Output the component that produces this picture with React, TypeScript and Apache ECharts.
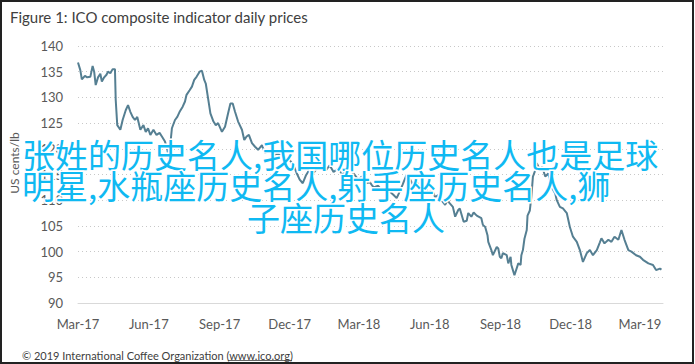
import React, { useEffect, useRef } from "react";
import * as echarts from "echarts";

// ---- Data ----
const startDate = "2017-03-01";
const endDate = "2019-03-31";

// days since 1 March 2017
const dayOffsets = [
  0, 3, 5, 9, 12, 16, 19, 21, 23, 26, 29, 31, 34, 37, 39, 42, 45, 48, 49, 51,
  55, 58, 62, 65, 68, 71, 74, 77, 81, 85, 88, 91, 94, 98, 102, 106, 109, 113, 116, 118,
  122, 126, 129, 132, 136, 139, 141, 145, 148, 151, 154, 158, 161, 164, 166, 169, 172, 176, 179, 182,
  187, 191, 195, 198, 201, 204, 208, 213, 216, 219, 222, 226, 230, 234, 239, 243, 247, 254, 260, 267,
  275, 280, 284, 288, 292, 296, 301, 306, 312, 317, 322, 327, 332, 338, 343, 348, 353, 358, 364, 369,
  374, 379, 384, 390, 395, 400, 405, 410, 414, 419, 423, 427, 431, 435, 440, 444, 449, 455, 460, 464,
  468, 471, 477, 480, 483, 487, 490, 494, 496, 501, 505, 507, 511, 514, 518, 524, 526, 529, 532, 533,
  537, 539, 544, 546, 548, 550, 552, 557, 559, 562, 563, 565, 567, 572, 575, 576, 578, 580, 583, 584,
  587, 589, 591, 595, 596, 600, 603, 607, 611, 615, 620, 622, 626, 630, 635, 639, 643, 648, 652, 656,
  661, 665, 669, 674, 678, 680, 684, 689, 693, 697, 702, 706, 710, 715, 719, 725, 730, 734, 741, 747,
  751, 756, 758,
];

// US cents/lb
const prices = [
  136.8, 135.3, 133.5, 134.2, 133.9, 134.0, 136.1, 135.0, 132.4, 133.9, 134.6, 133.1, 133.9, 134.4, 135.0, 134.7, 135.5, 135.5, 129.5, 124.6,
  123.7, 125.6, 127.5, 128.5, 127.2, 126.2, 125.6, 126.2, 123.7, 124.6, 123.3, 124.0, 122.7, 123.7, 122.7, 123.1, 122.4, 121.4, 120.0, 118.0,
  124.0, 125.6, 126.2, 127.2, 128.2, 129.2, 130.5, 131.4, 132.1, 133.4, 134.0, 135.0, 135.2, 133.4, 132.7, 129.8, 126.9, 125.3, 124.6, 125.0,
  123.3, 124.3, 126.9, 128.8, 128.8, 127.2, 125.3, 123.7, 121.7, 122.4, 122.7, 121.1, 120.4, 119.8, 120.7, 119.1, 119.8, 118.8, 119.1, 118.2,
  117.8, 116.8, 115.3, 114.0, 113.3, 114.8, 116.0, 115.3, 116.5, 117.0, 115.8, 116.8, 115.5, 116.2, 115.0, 115.6, 114.5, 115.2, 114.0, 114.6,
  113.3, 113.5, 112.5, 112.8, 111.8, 112.3, 111.7, 111.0, 110.4, 112.0, 113.5, 115.0, 114.2, 113.0, 113.6, 112.2, 112.8, 111.5, 111.9, 110.6,
  111.0, 110.2, 109.1, 110.0, 109.4, 108.7, 106.8, 108.1, 108.4, 105.8, 106.0, 107.5, 106.8, 107.6, 107.0, 106.5, 105.2, 104.8, 103.2, 101.9,
  100.3, 99.3, 100.9, 100.6, 99.0, 98.7, 99.7, 99.3, 97.7, 99.0, 97.4, 96.4, 95.4, 97.7, 97.4, 99.3, 100.3, 102.5, 104.2, 107.0,
  108.0, 110.7, 114.6, 116.2, 117.2, 115.9, 116.5, 114.6, 115.2, 112.6, 111.3, 110.0, 108.7, 108.4, 107.5, 104.8, 102.9, 101.9, 100.3, 98.0,
  99.7, 100.3, 99.3, 100.3, 101.8, 102.6, 101.6, 102.3, 101.9, 102.9, 102.3, 104.2, 102.3, 100.3, 100.0, 99.3, 99.0, 98.4, 97.7, 97.4,
  96.4, 96.7, 96.5,
];

const tickDates = [
  "2017-03-01", "2017-06-01", "2017-09-01", "2017-12-01", "2018-03-01",
  "2018-06-01", "2018-09-01", "2018-12-01", "2019-03-01",
];
const tickLabels = [
  "Mar-17", "Jun-17", "Sep-17", "Dec-17", "Mar-18",
  "Jun-18", "Sep-18", "Dec-18", "Mar-19",
];

const yMin = 90;
const yMax = 140;
const yStep = 5;

const titleText = "Figure 1: ICO composite indicator daily prices";
const yAxisName = "US cents/lb";
const footerText = "© 2019 International Coffee Organization (www.ico.org)";
const overlayLines = [
  "张姓的历史名人,我国哪位历史名人也是足球",
  "明星,水瓶座历史名人,射手座历史名人,狮",
  "子座历史名人",
];

const DAY_MS = 86400000;
const toDays = (s: string) => Math.round((Date.parse(s + "T00:00:00Z") - Date.parse(startDate + "T00:00:00Z")) / DAY_MS);

export default function App() {
  const ref = useRef<HTMLDivElement>(null);

  useEffect(() => {
    if (!ref.current) return;
    const chart = echarts.init(ref.current, null, { renderer: "svg" });
    const tickDays = tickDates.map(toDays);
    const maxDay = toDays(endDate);
    const labelFont = "Lato, 'Liberation Sans', sans-serif";

    chart.setOption({
      animation: false,
      backgroundColor: "#ffffff",
      title: {
        text: titleText,
        left: 5,
        top: 4,
        textStyle: { fontFamily: labelFont, fontSize: 15, fontWeight: "normal", color: "#404040" },
      },
      grid: { left: 78, right: 32, top: 46, bottom: 61, containLabel: false },
      xAxis: {
        type: "value",
        min: 0,
        max: maxDay,
        axisLine: { show: true, lineStyle: { color: "#d9d9d9", width: 1 } },
        axisTick: { show: false },
        splitLine: { show: false },
        axisLabel: {
          customValues: tickDays,
          margin: 14,
          fontFamily: labelFont,
          fontSize: 13,
          color: "#595959",
          formatter: (v: number) => {
            const i = tickDays.indexOf(Math.round(v));
            return i >= 0 ? tickLabels[i] : "";
          },
        },
      },
      yAxis: {
        type: "value",
        min: yMin,
        max: yMax,
        interval: yStep,
        axisLine: { show: false },
        axisTick: { show: false },
        axisLabel: { margin: 15, fontFamily: labelFont, fontSize: 13, color: "#595959" },
        splitLine: {
          show: true,
          lineStyle: { type: [1, 3], color: "#c8c8c8", width: 1 },
        },
      },
      series: [
        {
          type: "line",
          data: dayOffsets.map((d, i) => [d, prices[i]]),
          showSymbol: false,
          symbol: "none",
          lineStyle: { color: "#557f92", width: 2 },
          z: 3,
        },
      ],
      graphic: [
        {
          type: "text",
          x: 14,
          y: 163,
          rotation: Math.PI / 2,
          style: {
            text: yAxisName,
            font: "12px Lato, 'Liberation Sans', sans-serif",
            fill: "#595959",
            textAlign: "center",
            textVerticalAlign: "middle",
          },
        },
        {
          type: "text",
          x: 22,
          y: 355,
          style: {
            text: footerText,
            font: "11px Lato, 'Liberation Sans', sans-serif",
            fill: "#404040",
            textAlign: "left",
            textVerticalAlign: "middle",
          },
        },
        {
          type: "line",
          shape: { x1: 228, y1: 360.5, x2: 292, y2: 360.5 },
          style: { stroke: "#404040", lineWidth: 0.8 },
        },
        {
          type: "text",
          x: 22,
          y: 154,
          z: 10,
          style: {
            text: overlayLines[0],
            font: "33px 'Noto Sans CJK SC', sans-serif",
            fill: "#0fb9f2",
            stroke: "#ffffff",
            lineWidth: 3,
            textAlign: "left",
            textVerticalAlign: "middle",
          },
        },
        {
          type: "text",
          x: 22,
          y: 185,
          z: 10,
          style: {
            text: overlayLines[1],
            font: "33px 'Noto Sans CJK SC', sans-serif",
            fill: "#0fb9f2",
            stroke: "#ffffff",
            lineWidth: 3,
            textAlign: "left",
            textVerticalAlign: "middle",
          },
        },
        {
          type: "text",
          x: 346,
          y: 217,
          z: 10,
          style: {
            text: overlayLines[2],
            font: "33px 'Noto Sans CJK SC', sans-serif",
            fill: "#0fb9f2",
            stroke: "#ffffff",
            lineWidth: 3,
            textAlign: "center",
            textVerticalAlign: "middle",
          },
        },
        {
          type: "rect",
          shape: { x: 1, y: 1, width: 692, height: 362 },
          style: { fill: "none", stroke: "#222222", lineWidth: 2 },
          z: 20,
        },
      ],
    });

    return () => chart.dispose();
  }, []);

  return (
    <div
      ref={ref}
      style={{ position: "fixed", left: 0, top: 0, width: 695, height: 364 }}
    />
  );
}
